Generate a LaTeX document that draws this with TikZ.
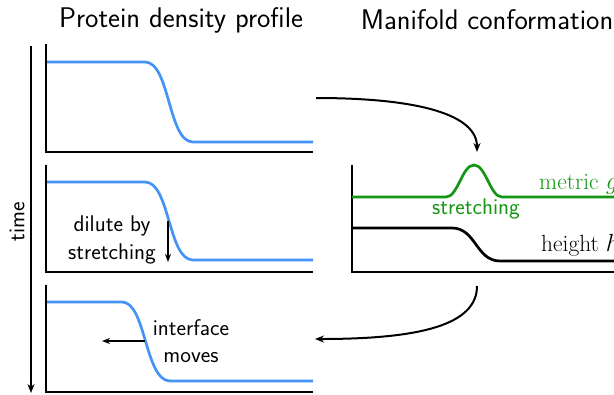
\documentclass[tikz,border=0pt]{standalone}
\usetikzlibrary{arrows.meta}
\definecolor{pblue}{RGB}{69,148,245}
\definecolor{mgreen}{RGB}{20,150,20}
\begin{document}
\begin{tikzpicture}[x=1bp,y=-1bp,
  axis/.style={line width=1.3bp},
  prof/.style={pblue,line width=2.7bp},
  conn/.style={line width=2bp,-{Stealth[length=9bp,width=7bp]}},
  txt/.style={font=\sffamily\fontsize{22.8}{27.5}\selectfont,align=center,inner sep=0},
  ttl/.style={font=\sffamily\fontsize{28.5}{33}\selectfont,inner sep=0}]
\useasboundingbox (0,0) rectangle (614,394);
\clip (0,0) rectangle (614,394);
% titles
\node[ttl] (t1) at (181,20) {Protein density profile};
\node[ttl] (t2) at (487,20) {Manifold conformation};
% time axis
\coordinate (ta) at (31,46);
\coordinate (tb) at (31,393);
\draw[line width=1.8bp,-{Stealth[length=9bp,width=7bp]}] (ta) -- (tb);
\node[txt,rotate=90] (time) at (17,222) {time};
% panel 1
\draw[axis] (46,44) -- (46,152) -- (313,152);
\draw[prof] (47,62) -- (145,62) .. controls (170,62) and (168,142) .. (193,142) -- (313,142);
% panel 2
\draw[axis] (46,165) -- (46,272) -- (313,272);
\draw[prof] (47,182) -- (145,182) .. controls (170,182) and (168,260) .. (193,260) -- (313,260);
\coordinate (da) at (168,221);
\coordinate (db) at (168,262);
\draw[line width=1.6bp,-{Stealth[length=8bp,width=6bp]}] (da) -- (db);
\node[txt] (dil) at (112,240) {dilute by\\stretching};
% panel 3
\draw[axis] (46,285) -- (46,392) -- (313,392);
\draw[prof] (47,302) -- (122,302) .. controls (146,302) and (145,381) .. (170,381) -- (313,381);
\coordinate (ia) at (145,341);
\coordinate (ib) at (102,341);
\draw[line width=1.6bp,-{Stealth[length=8bp,width=6bp]}] (ia) -- (ib);
\node[txt] (itf) at (191,341) {interface\\moves};
% right panel
\draw[axis] (352,165) -- (352,272) -- (620,272);
\draw[mgreen,line width=2.7bp] (352,197) -- (446,197)
  .. controls (458,197) and (462,165) .. (474,165)
  .. controls (486,165) and (490,197) .. (502,197) -- (620,197);
\node[txt,text=mgreen] (str) at (476,209) {stretching};
\node[font=\fontsize{23.5}{28}\selectfont,text=mgreen,anchor=base west,inner sep=0] (met) at (539,189) {metric $g$};
\draw[line width=2.7bp] (352,228) -- (452,228) .. controls (476,228) and (476,261) .. (500,261) -- (620,261);
\node[font=\fontsize{23.5}{28}\selectfont,anchor=base west,inner sep=0] (hgt) at (541,251) {height $h$};
% connectors
\coordinate (a1s) at (316,98);
\coordinate (a1e) at (477,152);
\draw[conn] (a1s) .. controls (420,98) and (477,115) .. (a1e);
\coordinate (a2s) at (477,286);
\coordinate (a2e) at (315,339);
\draw[conn] (a2s) .. controls (477,325) and (420,339) .. (a2e);
\end{tikzpicture}
\end{document}
